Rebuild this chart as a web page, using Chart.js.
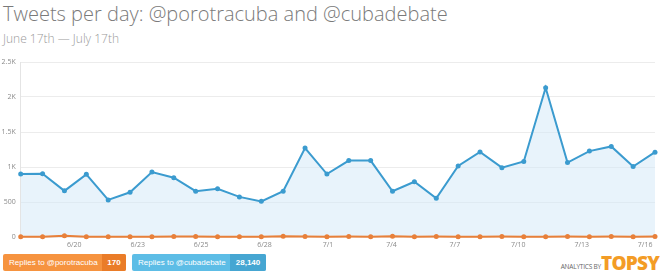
<!DOCTYPE html>
<html>
<head>
<meta charset="utf-8">
<script src="https://cdn.jsdelivr.net/npm/chart.js@4.4.0/dist/chart.umd.min.js"></script>
<style>
    body { margin: 0; width: 660px; height: 280px; background: #fff; font-family: "Open Sans", sans-serif; position: relative; overflow: hidden; }
    #title { position: absolute; left: 3px; top: 0px; font-size: 20px; font-weight: 300; color: #7a7a7a; white-space: nowrap; }
    #subtitle { position: absolute; left: 3px; top: 30px; font-size: 12px; font-weight: 300; color: #9a9a9a; white-space: nowrap; }
    #chartBox { position: absolute; left: 0; top: 50px; width: 660px; height: 200px; }
    .badge { position: absolute; top: 254px; height: 17px; line-height: 17px; font-family: "Liberation Sans", Arial, sans-serif; font-size: 8px; color: #fff; border-radius: 2px; overflow: hidden; white-space: nowrap; }
    .badge .lbl { position: absolute; left: 0; top: 0; bottom: 0; padding-left: 6px; }
    .badge .num { position: absolute; right: 0; top: 0; bottom: 0; text-align: center; font-weight: 700; }
    #brand { position: absolute; right: 1px; top: 250px; white-space: nowrap; }
    #brand .by { font-size: 6.5px; color: #666; letter-spacing: -0.2px; position: relative; top: -1px; }
    #brand .topsy { font-size: 19px; font-weight: 800; color: #f39c26; letter-spacing: -0.8px; }
</style>
</head>
<body>
<div id="title">Tweets per day: @porotracuba and @cubadebate</div>
<div id="subtitle">June 17th — July 17th</div>
<div id="chartBox"><canvas id="tweetsChart"></canvas></div>
<div class="badge" id="badgeOrange" style="left:3px; width:123px; background:#f6933f;">
    <span class="lbl">Replies to @porotracuba</span>
    <span class="num" style="width:24px; background:#ea7c28;">170</span>
</div>
<div class="badge" id="badgeBlue" style="left:132px; width:134px; background:#5dbde6;">
    <span class="lbl">Replies to @cubadebate</span>
    <span class="num" style="width:36px; background:#46a6d2;">28,140</span>
</div>
<div id="brand"><span class="by">ANALYTICS BY</span><span class="topsy">TOPSY</span></div>

<script>
// one point per day, 6/17 .. 7/16
const cubadebate = [899, 905, 659, 895, 530, 639, 928, 847, 654, 688,
                    573, 509, 654, 1270, 899, 1092, 1092, 654, 789, 553,
                    1014, 1216, 991, 1078, 2131, 1063, 1227, 1294, 1006, 1212];
const porotracuba = [5, 2, 18, 4, 3, 3, 2, 8, 6, 4,
                     3, 2, 9, 8, 5, 6, 5, 10, 3, 6,
                     5, 4, 6, 4, 5, 6, 5, 7, 5, 8];
const tickLabels = ['6/20', '6/23', '6/25', '6/28', '7/1', '7/4', '7/7', '7/10', '7/13', '7/16'];
const tickPos = [2.45, 5.35, 8.25, 11.15, 14.05, 16.95, 19.85, 22.75, 25.65, 28.55];
const yTicks = [0, 500, 1000, 1500, 2000, 2500];

function toXY(arr) {
    return arr.map((v, i) => ({ x: i, y: v }));
}

const ctx = document.getElementById('tweetsChart').getContext('2d');
new Chart(ctx, {
    type: 'line',
    data: {
        datasets: [{
            label: 'Replies to @porotracuba',
            data: toXY(porotracuba),
            borderColor: '#e8803a',
            backgroundColor: '#e8803a',
            borderWidth: 2,
            pointRadius: 2.5,
            pointBorderWidth: 0,
            tension: 0,
            clip: 5,
            fill: false
        }, {
            label: 'Replies to @cubadebate',
            data: toXY(cubadebate),
            borderColor: '#3b9bcf',
            backgroundColor: '#3b9bcf',
            borderWidth: 2,
            pointRadius: 2.5,
            pointBorderWidth: 0,
            tension: 0,
            clip: 5,
            fill: { target: 'origin', above: 'rgba(214, 234, 247, 0.55)' }
        }]
    },
    options: {
        responsive: true,
        maintainAspectRatio: false,
        animation: false,
        layout: { padding: { top: 12, right: 5, left: 0, bottom: 0 } },
        plugins: {
            legend: { display: false },
            tooltip: { enabled: false }
        },
        scales: {
            x: {
                type: 'linear',
                min: 0,
                max: cubadebate.length - 1,
                grid: { display: false, drawTicks: false },
                border: { display: false },
                afterBuildTicks: scale => { scale.ticks = tickPos.map(v => ({ value: v })); },
                afterFit: scale => { scale.height = 13; },
                ticks: {
                    autoSkip: false,
                    maxRotation: 0,
                    padding: 4,
                    color: '#8a8a8a',
                    font: { family: 'Open Sans', size: 7 },
                    callback: (v, i) => tickLabels[i]
                }
            },
            y: {
                min: 0,
                max: 2500,
                grid: { color: '#ececec', drawTicks: false },
                border: { display: true, color: '#e4e4e4' },
                afterBuildTicks: scale => { scale.ticks = yTicks.map(v => ({ value: v })); },
                afterFit: scale => { scale.width = 20.7; },
                ticks: {
                    padding: 5,
                    color: '#8a8a8a',
                    font: { family: 'Open Sans', size: 7 },
                    callback: v => v >= 1000 ? (v / 1000) + 'K' : v
                }
            }
        }
    }
});
</script>
</body>
</html>
